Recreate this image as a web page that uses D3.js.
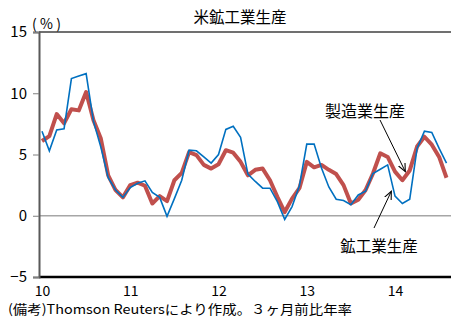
<!DOCTYPE html>
<html>
<head>
<meta charset="utf-8">
<script src="https://cdn.jsdelivr.net/npm/d3@7"></script>
<style>
  body { margin: 0; background: #fff; }
  text { font-family: "Noto Sans CJK JP", "Noto Sans", sans-serif; fill: #000; }
</style>
</head>
<body>
<div class="chart"></div>
<script>
const width = 451,
    height = 320;

// monthly, Jan 2010 .. Aug 2014 (3-month annualized, %)
const yearLabels = ["10", "11", "12", "13", "14"];
const yTicks = [-5, 0, 5, 10, 15];
const industrial = [6.9, 5.3, 7.0, 7.1, 11.2, 11.4, 11.6, 7.7, 5.6, 3.1, 2.1, 1.5,
    2.3, 2.65, 2.85, 1.9, 1.5, -0.05, 1.4, 2.9, 5.35, 5.3, 4.8, 4.3,
    5.0, 7.05, 7.3, 6.4, 3.4, 2.8, 2.25, 2.25, 1.15, -0.3, 0.75, 2.45,
    5.85, 5.85, 3.9, 2.35, 1.35, 1.25, 0.9, 1.7, 2.0, 3.45, 3.8, 4.15,
    1.6, 1.0, 1.35, 5.5, 6.9, 6.8, 5.5, 4.3];
const manufacturing = [6.1, 6.5, 8.3, 7.55, 8.7, 8.6, 10.1, 7.8, 6.3, 3.3, 2.1, 1.5,
    2.5, 2.7, 2.45, 1.0, 1.6, 1.2, 2.9, 3.5, 5.2, 4.95, 4.15, 3.85,
    4.2, 5.35, 5.15, 4.4, 3.3, 3.75, 3.85, 2.9, 1.55, 0.3, 1.4, 2.25,
    4.4, 3.95, 4.15, 3.75, 3.4, 2.5, 1.0, 1.3, 2.1, 3.45, 5.1, 4.8,
    3.6, 2.9, 3.7, 5.65, 6.45, 5.8, 4.8, 3.1];

const svg = d3.select(".chart").append("svg")
    .attr("width", width)
    .attr("height", height);

const x = d3.scaleLinear().domain([0, 55]).range([42, 446.5]);
const y = d3.scaleLinear().domain([-5, 15]).range([277, 32]);
const left = 39, right = 451;

// title
svg.append("text")
    .attr("x", 240).attr("y", 23)
    .attr("text-anchor", "middle")
    .style("font-size", "15.5px")
    .text("米鉱工業生産");

svg.append("text")
    .attr("x", 32).attr("y", 29)
    .attr("textLength", 29)
    .attr("lengthAdjust", "spacing")
    .style("font-size", "14px")
    .text("(%)");

// zero line
svg.append("line")
    .attr("x1", left).attr("x2", right)
    .attr("y1", y(0)).attr("y2", y(0))
    .attr("stroke", "#a6a6a6").attr("stroke-width", 1.5);

// frame
svg.append("line")
    .attr("x1", left).attr("x2", right)
    .attr("y1", y(15)).attr("y2", y(15))
    .attr("stroke", "#404040").attr("stroke-width", 1.5);
svg.append("line")
    .attr("x1", left).attr("x2", right)
    .attr("y1", y(-5)).attr("y2", y(-5))
    .attr("stroke", "#000").attr("stroke-width", 2.5);

const yAxis = svg.append("g")
    .attr("transform", `translate(${left},0)`)
    .call(d3.axisLeft(y).tickValues(yTicks).tickSize(6).tickPadding(6)
        .tickFormat(d => d < 0 ? "\u2212" + Math.abs(d) : d));
yAxis.select(".domain").attr("stroke", "#595959").attr("stroke-width", 2);
yAxis.selectAll(".tick line").attr("stroke", "#7f7f7f");
yAxis.selectAll(".tick text")
    .style("font-size", "15px")
    .style("font-family", "\"Noto Sans CJK JP\", sans-serif");

// x labels
const xAxis = svg.append("g")
    .attr("transform", `translate(0,${y(-5)})`)
    .call(d3.axisBottom(x).tickValues(yearLabels.map((d, i) => i * 12))
        .tickSize(0).tickPadding(9)
        .tickFormat((d, i) => yearLabels[i]));
xAxis.select(".domain").remove();
xAxis.selectAll(".tick text")
    .style("font-size", "14px")
    .style("font-family", "\"Noto Sans CJK JP\", sans-serif");

// series
const line = d3.line()
    .x((d, i) => x(i))
    .y(d => y(d));

svg.append("path")
    .datum(manufacturing)
    .attr("fill", "none")
    .attr("stroke", "#c0504d")
    .attr("stroke-width", 4)
    .attr("stroke-linejoin", "round")
    .attr("d", line);

svg.append("path")
    .datum(industrial)
    .attr("fill", "none")
    .attr("stroke", "#0070c0")
    .attr("stroke-width", 1.6)
    .attr("d", line);

// annotations
svg.append("defs").append("marker")
    .attr("id", "arrow")
    .attr("viewBox", "0 0 10 10")
    .attr("refX", 9).attr("refY", 5)
    .attr("markerWidth", 9).attr("markerHeight", 9)
    .attr("orient", "auto")
    .append("path")
    .attr("d", "M0,1 L9,5 L0,9")
    .attr("fill", "none")
    .attr("stroke", "#000")
    .attr("stroke-width", 1.2);

svg.append("text")
    .attr("x", 365).attr("y", 117)
    .attr("text-anchor", "middle")
    .style("font-size", "16px")
    .text("製造業生産");
svg.append("line")
    .attr("x1", 380).attr("y1", 120)
    .attr("x2", x(49.4)).attr("y2", y(3.6))
    .attr("stroke", "#000").attr("stroke-width", 1)
    .attr("marker-end", "url(#arrow)");

svg.append("text")
    .attr("x", 379).attr("y", 252)
    .attr("text-anchor", "middle")
    .style("font-size", "15.5px")
    .text("鉱工業生産");
svg.append("line")
    .attr("x1", 374).attr("y1", 228)
    .attr("x2", x(47.5)).attr("y2", y(2.0))
    .attr("stroke", "#000").attr("stroke-width", 1)
    .attr("marker-end", "url(#arrow)");

// note
svg.append("text")
    .attr("x", 8).attr("y", 314)
    .attr("textLength", 344)
    .attr("lengthAdjust", "spacingAndGlyphs")
    .style("font-size", "13px")
    .text("(備考)Thomson Reutersにより作成。３ヶ月前比年率");
</script>
</body>
</html>
